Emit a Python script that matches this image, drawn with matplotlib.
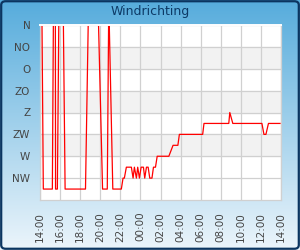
import numpy as np
import matplotlib
matplotlib.use("Agg")
import matplotlib.pyplot as plt
from matplotlib.patches import FancyBboxPatch

# hours after 14:00 and wind direction in degrees (0 = N)
hours = [0.2, 0.33, 1.23, 1.33, 1.53, 1.55, 1.73, 1.87, 2.33, 2.5, 4.53, 4.8,
         5.83, 6.23, 6.7, 6.83, 6.9, 7.25, 8.1, 8.27, 8.4, 8.6, 9.1, 9.27,
         9.4, 9.6, 9.73, 9.9, 10.07, 10.3, 10.43, 10.6, 10.77, 10.93, 11.15,
         11.3, 11.5, 11.67, 12.83, 13.25, 13.73, 13.88, 16.2, 16.33, 18.8,
         18.9, 19.2, 22.1, 22.3, 22.5, 22.75, 23.9]
degrees = [0, 337.5, 337.5, 0, 0, 337.5, 337.5, 0, 0, 337.5, 337.5, 0,
           0, 337.5, 337.5, 0, 0, 337.5, 337.5, 315, 315, 292.5, 292.5, 315,
           292.5, 315, 292.5, 315, 292.5, 292.5, 315, 292.5, 292.5, 315, 315,
           292.5, 292.5, 270, 270, 247.5, 247.5, 225, 225, 202.5, 202.5,
           180, 202.5, 202.5, 225, 225, 202.5, 202.5]

dir_ticks = [0, 45, 90, 135, 180, 225, 270, 315]
dir_labels = ["N", "NO", "O", "ZO", "Z", "ZW", "W", "NW"]
time_ticks = list(range(0, 25, 2))
time_labels = ["14:00", "16:00", "18:00", "20:00", "22:00", "00:00", "02:00",
               "04:00", "06:00", "08:00", "10:00", "12:00", "14:00"]
title = "Windrichting"

fig = plt.figure(figsize=(3, 2.5), dpi=100)

# background gradient
bg = fig.add_axes([0, 0, 1, 1])
top = np.array([86, 172, 220]) / 255
bot = np.array([236, 245, 251]) / 255
t = np.linspace(0, 1, 256)[:, None]
grad = top * (1 - t) + bot * t
bg.imshow(grad[:, None, :].repeat(2, axis=1), aspect="auto", extent=[0, 1, 0, 1])
bg.add_patch(FancyBboxPatch((0.004, 0.005), 0.992, 0.99,
                            boxstyle="round,pad=0,rounding_size=0.015",
                            transform=bg.transAxes, fill=False,
                            edgecolor="#0b3560", linewidth=1.6))
bg.set_xlim(0, 1)
bg.set_ylim(0, 1)
bg.axis("off")

fig.text(0.5, 0.953, title, ha="center", va="center", fontsize=9,
         color="#0d3a66")

ax = fig.add_axes([40 / 300, 50 / 250, 241 / 300, 175 / 250])
ax.set_facecolor("white")
for lo in (45, 135, 225):
    ax.axhspan(lo, lo + 45, color="#f2f2f2", zorder=0)
ax.set_xlim(0, 24)
ax.set_ylim(360, 0)
ax.set_yticks(dir_ticks)
ax.set_yticklabels(dir_labels)
ax.set_xticks(time_ticks)
ax.set_xticklabels(time_labels, rotation=90)
ax.grid(True, color="#d0d0d0", linewidth=0.9, zorder=1)
ax.set_axisbelow(True)
ax.tick_params(length=0, labelsize=7.5, labelcolor="#444444")
ax.tick_params(axis="y", pad=7)
ax.tick_params(axis="x", pad=8.5)
for s in ax.spines.values():
    s.set_color("#d0d0d0")
    s.set_linewidth(0.9)
ax.spines["top"].set_color("white")
ax.spines["top"].set_linewidth(1.4)
ax.spines["top"].set_zorder(5)

ax.plot(hours, degrees, color="#ff0000", linewidth=0.9, zorder=3)

fig.savefig("out.png", dpi=100)
